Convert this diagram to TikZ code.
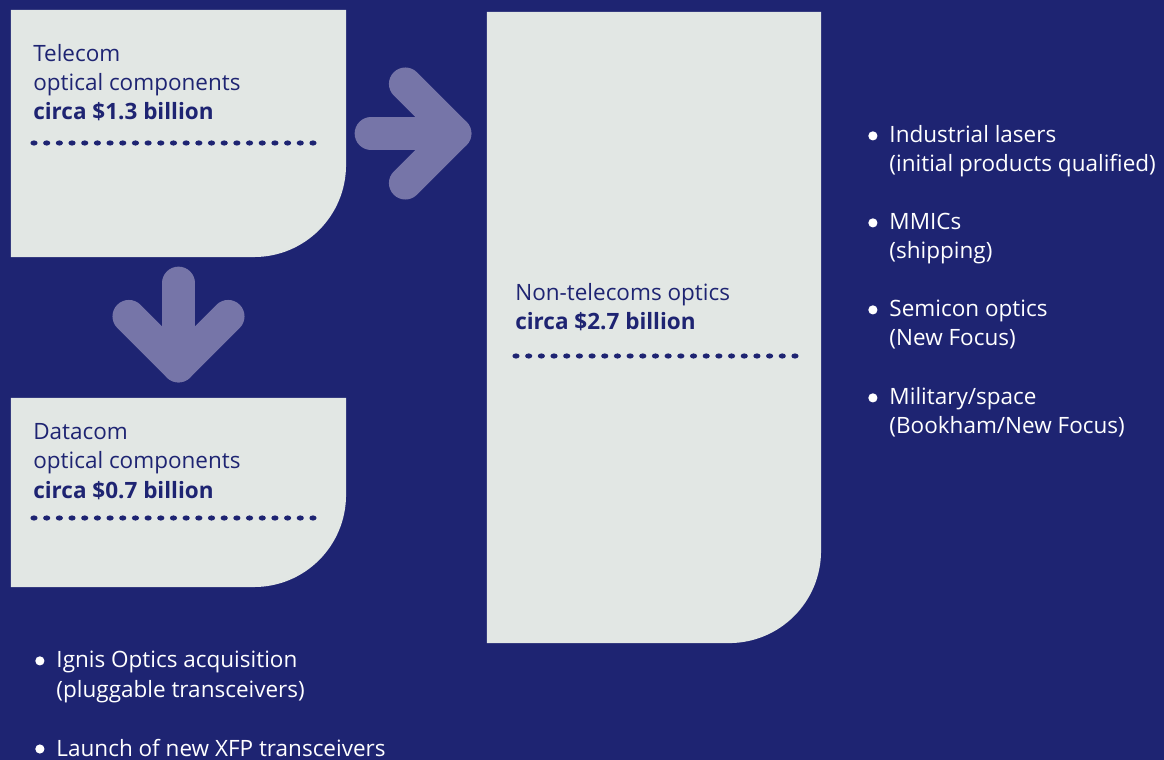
\documentclass[tikz,border=0pt]{standalone}
\usepackage{fontspec}
\setmainfont{Open Sans}
\usetikzlibrary{calc}

\definecolor{navy}{RGB}{30,36,114}
\definecolor{paper}{RGB}{226,231,228}
\definecolor{lilac}{RGB}{118,117,168}

% round bullet and the indent of a follow-on line
\newcommand{\blt}{\makebox[0.53cm][l]{\tikz[baseline=-0.175cm]\fill[white] (0,0) circle (0.115cm);}}
\newcommand{\skipblt}{\hspace*{0.53cm}}

\begin{document}
\begin{tikzpicture}[
		x=0.025cm, y=-0.025cm,
		panel/.style={minimum width=8.375cm, inner sep=0pt, outer sep=0pt},
		inktext/.style={text=navy, align=left, inner sep=0pt, font=\fontsize{16}{20.7}\selectfont},
		pointtext/.style={inktext, text=white},
		bigarrow/.style={draw=lilac, line width=0.82cm, line cap=round, line join=round},
		dotmark/.style={fill=navy}
	]

	\fill[navy] (0,0) rectangle (1164,760);
	\useasboundingbox (0,0) rectangle (1164,760);

	\node[panel, minimum height=6.175cm] (telecom) at (178.5,133.5) {};
	\node[panel, minimum height=4.725cm] (datacom) at (178.5,492.5) {};
	\node[panel, minimum width=8.35cm, minimum height=15.775cm] (nontel) at (654,327.5) {};

	% square boxes, only the lower right corner is rounded
	\foreach \p in {telecom, datacom, nontel}
		\fill[paper] (\p.north west) -- (\p.north east) -- ([yshift=2.3cm]\p.south east)
			arc[start angle=0, end angle=-90, radius=2.3cm] -- (\p.south west) -- cycle;

	% the base of a text block is its last line
	\node[inktext, anchor=base west] (telecomtext) at (33,120) {Telecom\\optical components\\\textbf{circa \$1.3 billion}};
	\node[inktext, anchor=base west] (datacomtext) at (33,498) {Datacom\\optical components\\\textbf{circa \$0.7 billion}};
	\node[inktext, anchor=base west] (nonteltext) at (515,330) {Non-telecoms optics\\\textbf{circa \$2.7 billion}};

	% dotted rules, 23 flat dots each
	\foreach \a/\y in {34/143, 34/518, 516/356}
		\foreach \i in {0,...,22}
			\fill[dotmark] (\a+\i*12.68,\y) ellipse [x radius=0.09cm, y radius=0.065cm];

	% fat arrows between the boxes
	\coordinate (rtail) at ([xshift=0.625cm]telecom.east);
	\coordinate (rtip) at ($(telecom.east -| nontel.west)+(-0.8cm,0)$);
	\coordinate (dtail) at ([yshift=-0.65cm]telecom.south);
	\coordinate (dtip) at ([yshift=0.8cm]datacom.north);

	\draw[bigarrow] (rtail) -- (rtip);
	\draw[bigarrow] ($(rtip)+(-1.24cm,1.24cm)$) -- (rtip) -- ($(rtip)+(-1.24cm,-1.24cm)$);
	\draw[bigarrow] (dtail) -- (dtip);
	\draw[bigarrow] ($(dtip)+(-1.24cm,1.24cm)$) -- (dtip) -- ($(dtip)+(1.24cm,1.24cm)$);

	\node[pointtext, anchor=base west] (lasers) at (868,172) {\blt Industrial lasers\\\skipblt(initial products qualified)};
	\node[pointtext, anchor=base west] (mmics) at (868,259) {\blt MMICs\\\skipblt(shipping)};
	\node[pointtext, anchor=base west] (semicon) at (868,346) {\blt Semicon optics\\\skipblt(New Focus)};
	\node[pointtext, anchor=base west] (military) at (868,434) {\blt Military/space\\\skipblt(Bookham/New Focus)};

	\node[pointtext, anchor=base west] (ignis) at (35,697) {\blt Ignis Optics acquisition\\\skipblt(pluggable transceivers)};
	\node[pointtext, anchor=base west] (xfp) at (35,756) {\blt Launch of new XFP transceivers};
\end{tikzpicture}
\end{document}
